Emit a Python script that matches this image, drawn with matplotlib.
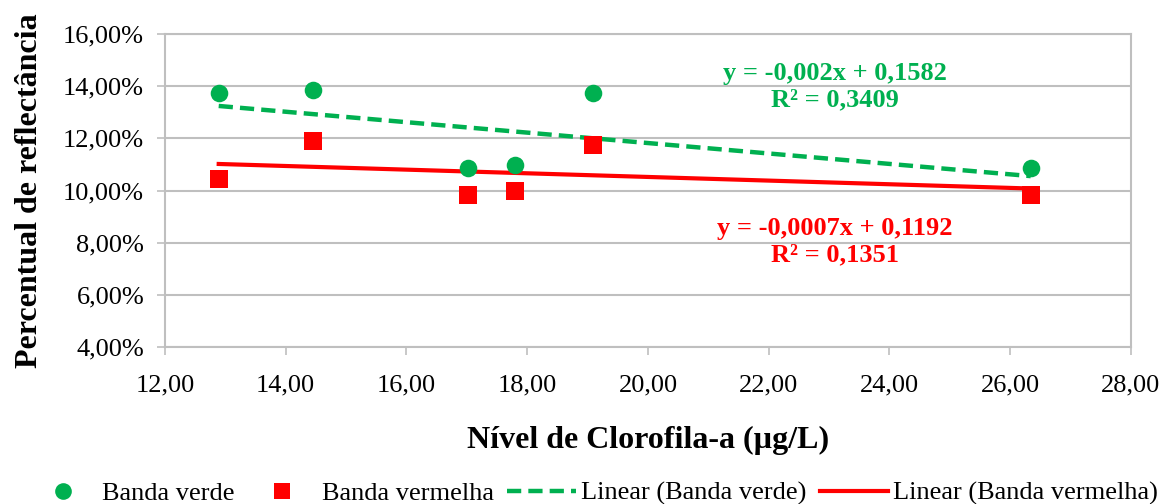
import numpy as np
import matplotlib
matplotlib.use('Agg')
import matplotlib.pyplot as plt
from matplotlib.ticker import FuncFormatter
from matplotlib.lines import Line2D

plt.rcParams['font.family'] = ['Liberation Serif', 'DejaVu Serif']

# data
clorofila = [12.89, 14.45, 17.02, 17.79, 19.09, 26.34]
banda_verde = [13.74, 13.85, 10.87, 10.98, 13.74, 10.87]
banda_vermelha = [10.44, 11.90, 9.83, 9.98, 11.75, 9.83]

# trend line coefficients as shown in the chart
verde_slope, verde_intercept, verde_r2 = -0.002, 0.1582, 0.3409
verm_slope, verm_intercept, verm_r2 = -0.0007, 0.1192, 0.1351

x_ticks = [12, 14, 16, 18, 20, 22, 24, 26, 28]
y_ticks = [4, 6, 8, 10, 12, 14, 16]

verde_color = '#00B050'
verm_color = '#FF0000'
grid_color = '#BFBFBF'

fig = plt.figure(figsize=(11.75, 5.04), dpi=100)
ax = fig.add_axes([0.1404, 0.3115, 0.8221, 0.621])

ax.scatter(clorofila, banda_verde, s=160, color=verde_color, marker='o', zorder=4, linewidths=0)
ax.scatter(clorofila, banda_vermelha, s=150, color=verm_color, marker='s', zorder=4, linewidths=0)

# trend lines
xl = np.array([min(clorofila), max(clorofila)])
ax.plot(xl, (verde_slope * xl + verde_intercept) * 100, color=verde_color, lw=3.2,
        dashes=(3.2, 1.6), zorder=3)
ax.plot(xl, (verm_slope * xl + verm_intercept) * 100, color=verm_color, lw=3.0, zorder=3)

def fmt_pct(v, pos):
  return ('%.2f%%' % v).replace('.', ',')

def fmt_x(v, pos):
  return ('%.2f' % v).replace('.', ',')

ax.set_xlim(12, 28)
ax.set_ylim(4, 16)
ax.set_xticks(x_ticks)
ax.set_yticks(y_ticks)
ax.xaxis.set_major_formatter(FuncFormatter(fmt_x))
ax.yaxis.set_major_formatter(FuncFormatter(fmt_pct))
ax.tick_params(axis='both', labelsize=19, color=grid_color, length=6, width=1.2)
ax.tick_params(axis='x', pad=14)
ax.tick_params(axis='y', pad=9)
ax.grid(axis='y', color=grid_color, lw=1.5)
for s in ax.spines.values():
  s.set_color(grid_color)
  s.set_linewidth(1.5)

ax.set_ylabel('Percentual de reflectância', fontsize=23, fontweight='bold', labelpad=14)
ax.set_xlabel('Nível de Clorofila-a (µg/L)', fontsize=23, fontweight='bold', labelpad=21)

# equations
ax.text(23.1, 13.97, 'y = -0,002x + 0,1582\nR² = 0,3409', color=verde_color,
        fontsize=19, fontweight='bold', ha='center', va='center', linespacing=1.2)
ax.text(23.1, 8.03, 'y = -0,0007x + 0,1192\nR² = 0,1351', color=verm_color,
        fontsize=19, fontweight='bold', ha='center', va='center', linespacing=1.2)

handles = [
  Line2D([], [], ls='none', marker='o', ms=12, color=verde_color, mew=0),
  Line2D([], [], ls='none', marker='s', ms=12, color=verm_color, mew=0),
  Line2D([], [], color=verde_color, lw=3.2, dashes=(3.2, 1.6)),
  Line2D([], [], color=verm_color, lw=3.0),
]
labels = ['Banda verde', 'Banda vermelha', 'Linear (Banda verde)', 'Linear (Banda vermelha)']
fig.legend(handles, labels, loc='lower center', bbox_to_anchor=(0.505, -0.05), ncol=4,
           frameon=False, fontsize=19, handlelength=2.6, handletextpad=0.2, columnspacing=0.5)

plt.savefig('out.png', dpi=100)
